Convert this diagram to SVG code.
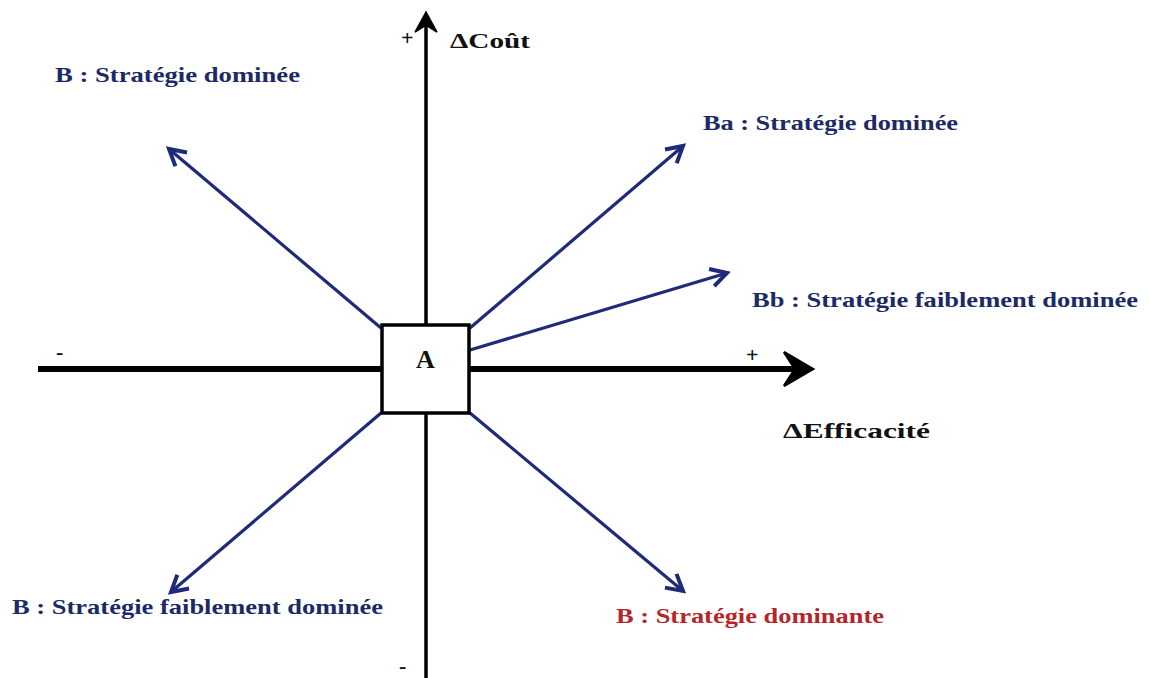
<svg xmlns="http://www.w3.org/2000/svg" width="1149" height="678" viewBox="0 0 1149 678">
<style>
.lbl{font-family:"Liberation Serif","Times New Roman",serif;font-weight:bold;font-size:21px;fill:#1c2a66}
.red{fill:#b3262b}
.ax{font-family:"Liberation Serif","Times New Roman",serif;font-weight:bold;font-size:21px;fill:#111}
.big{font-size:26px}
.sign{font-family:"Liberation Serif","Times New Roman",serif;font-size:22px;font-weight:bold;fill:#111}
.conn{stroke:#1f2a78;stroke-width:3.2;fill:none;marker-end:url(#ah)}
</style>
<defs>
<marker id="ah" markerUnits="userSpaceOnUse" markerWidth="30" markerHeight="30" viewBox="-22 -15 30 30" refX="0" refY="0" orient="auto">
<path d="M-16,-9 L0,0 L-16,9" fill="none" stroke="#1f2a78" stroke-width="4" stroke-linejoin="miter"/>
</marker>
</defs>
<rect width="1149" height="678" fill="#fff"/>
<g id="axes">
<line x1="38" y1="369" x2="806" y2="369" stroke="#000" stroke-width="6"/>
<path d="M813,369 L784,352 L795,369 L784,386 Z" fill="#000" stroke="#000" stroke-width="2.5" stroke-linejoin="miter"/>
<line x1="426" y1="678" x2="426" y2="16" stroke="#000" stroke-width="3.5"/>
<path d="M426,12 L415,32 L426,25 L437,32 Z" fill="#000" stroke="#000" stroke-width="1.5"/>
<text class="sign" x="401" y="45">+</text>
<text class="ax" x="450" y="48" textLength="80" lengthAdjust="spacingAndGlyphs">ΔCoût</text>
<text class="sign" x="56" y="359">-</text>
<text class="sign" x="746" y="362">+</text>
<text class="ax" x="783" y="438" textLength="147" lengthAdjust="spacingAndGlyphs">ΔEfficacité</text>
<text class="sign" x="399" y="673">-</text>
</g>
<g id="connectors">
<line class="conn" x1="381" y1="328" x2="169" y2="149"/>
<line class="conn" x1="470" y1="328" x2="683" y2="146"/>
<line class="conn" x1="470" y1="350" x2="727" y2="273"/>
<line class="conn" x1="381" y1="413" x2="171" y2="592"/>
<line class="conn" x1="470" y1="413" x2="683" y2="591"/>
</g>
<g id="nodeA">
<rect x="382" y="325" width="87" height="88" fill="#fff" stroke="#000" stroke-width="3.5"/>
<text class="ax big" x="425.5" y="368" text-anchor="middle">A</text>
</g>
<g id="label-b-dominee">
<text class="lbl" x="55" y="82" textLength="245" lengthAdjust="spacingAndGlyphs">B : Stratégie dominée</text>
</g>
<g id="label-ba">
<text class="lbl" x="703" y="130" textLength="255" lengthAdjust="spacingAndGlyphs">Ba : Stratégie dominée</text>
</g>
<g id="label-bb">
<text class="lbl" x="752" y="307" textLength="386" lengthAdjust="spacingAndGlyphs">Bb : Stratégie faiblement dominée</text>
</g>
<g id="label-b-faible">
<text class="lbl" x="12" y="614" textLength="371" lengthAdjust="spacingAndGlyphs">B : Stratégie faiblement dominée</text>
</g>
<g id="label-b-dominante">
<text class="lbl red" x="616" y="623" textLength="268" lengthAdjust="spacingAndGlyphs">B : Stratégie dominante</text>
</g>
</svg>
